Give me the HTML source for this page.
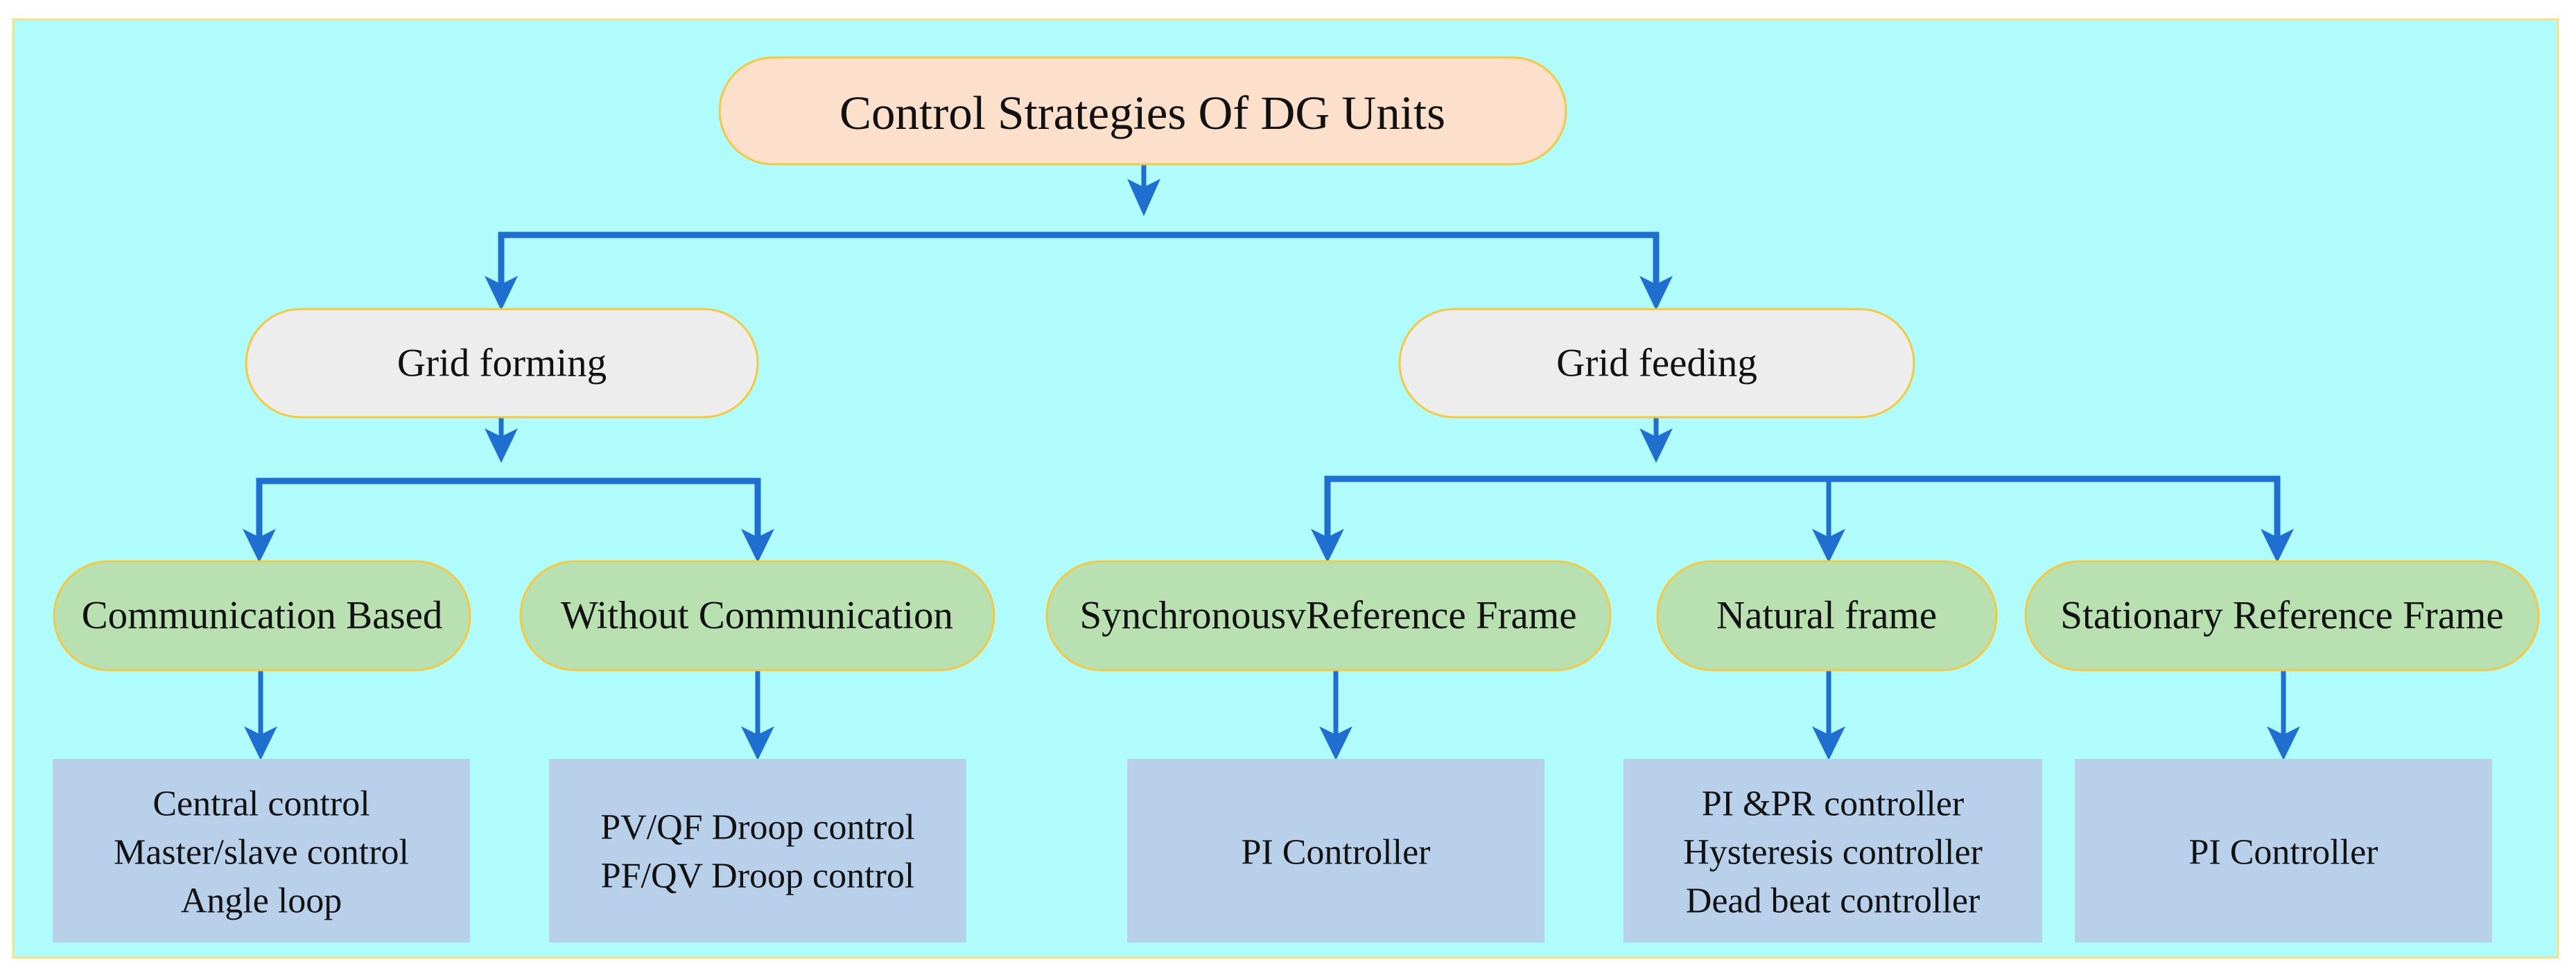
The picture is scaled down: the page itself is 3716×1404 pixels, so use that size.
<!DOCTYPE html>
<html><head><meta charset="utf-8"><style>
html,body{margin:0;padding:0;background:#fff;}
svg{display:block;}
text{font-family:"Liberation Serif",serif;fill:#111;text-anchor:middle;dominant-baseline:central;}
</style></head><body>
<svg width="3716" height="1404" viewBox="0 0 3716 1404" xmlns="http://www.w3.org/2000/svg">
<rect x="19" y="28" width="3671" height="1354" fill="#b0fcfc" stroke="#f2e28a" stroke-width="3"/>
<g stroke="#1f6fd0" stroke-width="7" fill="none">
<path d="M1650 237 V270"/>
<path d="M723 410 V339 H2389 V410" stroke-width="9"/>
<path d="M723 602 V630"/>
<path d="M374 775 V694 H1093 V775" stroke-width="9"/>
<path d="M2389 602 V630"/>
<path d="M1915 775 V691 H3285 V775" stroke-width="9"/>
<path d="M2638 691 V775"/>
<path d="M376 967 V1060"/>
<path d="M1093 967 V1060"/>
<path d="M1927 967 V1060"/>
<path d="M2638 967 V1060"/>
<path d="M3294 967 V1060"/>
</g>
<g fill="#1f6fd0">
<path d="M1626 258 L1650 270 L1674 258 L1650 312 Z"/>
<path d="M699 398 L723 410 L747 398 L723 448 Z"/>
<path d="M2365 398 L2389 410 L2413 398 L2389 448 Z"/>
<path d="M699 618 L723 630 L747 618 L723 668 Z"/>
<path d="M2365 618 L2389 630 L2413 618 L2389 668 Z"/>
<path d="M350 763 L374 775 L398 763 L374 812 Z"/>
<path d="M1069 763 L1093 775 L1117 763 L1093 812 Z"/>
<path d="M1891 763 L1915 775 L1939 763 L1915 812 Z"/>
<path d="M2614 763 L2638 775 L2662 763 L2638 812 Z"/>
<path d="M3261 763 L3285 775 L3309 763 L3285 812 Z"/>
<path d="M352 1048 L376 1060 L400 1048 L376 1097 Z"/>
<path d="M1069 1048 L1093 1060 L1117 1048 L1093 1097 Z"/>
<path d="M1903 1048 L1927 1060 L1951 1048 L1927 1097 Z"/>
<path d="M2614 1048 L2638 1060 L2662 1048 L2638 1097 Z"/>
<path d="M3270 1048 L3294 1060 L3318 1048 L3294 1097 Z"/>
</g>
<g stroke="#f5c842" stroke-width="3">
<rect x="1038" y="83" width="1221" height="154" rx="77" fill="#fde0cc"/>
<rect x="355" y="446" width="738" height="156" rx="78" fill="#ededed"/>
<rect x="2019" y="446" width="742" height="156" rx="78" fill="#ededed"/>
<rect x="78" y="810" width="600" height="157" rx="78" fill="#b9e0b0"/>
<rect x="751" y="810" width="683" height="157" rx="78" fill="#b9e0b0"/>
<rect x="1510" y="810" width="813" height="157" rx="78" fill="#b9e0b0"/>
<rect x="2391" y="810" width="489" height="157" rx="78" fill="#b9e0b0"/>
<rect x="2922" y="810" width="740" height="157" rx="78" fill="#b9e0b0"/>
</g>
<g fill="#b8d0ea">
<rect x="76" y="1095" width="602" height="265"/>
<rect x="792" y="1095" width="602" height="265"/>
<rect x="1626" y="1095" width="602" height="265"/>
<rect x="2342" y="1095" width="604" height="265"/>
<rect x="2993" y="1095" width="602" height="265"/>
</g>
<text x="1648" y="163" font-size="69">Control Strategies Of DG Units</text>
<text x="724" y="524" font-size="57">Grid forming</text>
<text x="2390" y="524" font-size="57">Grid feeding</text>
<text x="378" y="888" font-size="57">Communication Based</text>
<text x="1092" y="888" font-size="57">Without Communication</text>
<text x="1916" y="888" font-size="57">SynchronousvReference Frame</text>
<text x="2635" y="888" font-size="57">Natural frame</text>
<text x="3292" y="888" font-size="57">Stationary Reference Frame</text>
<g font-size="52">
<text x="377" y="1160">Central control</text>
<text x="377" y="1230">Master/slave control</text>
<text x="377" y="1300">Angle loop</text>
<text x="1093" y="1194">PV/QF Droop control</text>
<text x="1093" y="1264">PF/QV Droop control</text>
<text x="1927" y="1230">PI Controller</text>
<text x="2644" y="1160">PI &amp;PR controller</text>
<text x="2644" y="1230">Hysteresis controller</text>
<text x="2644" y="1300">Dead beat controller</text>
<text x="3294" y="1230">PI Controller</text>
</g>
</svg>
</body></html>
